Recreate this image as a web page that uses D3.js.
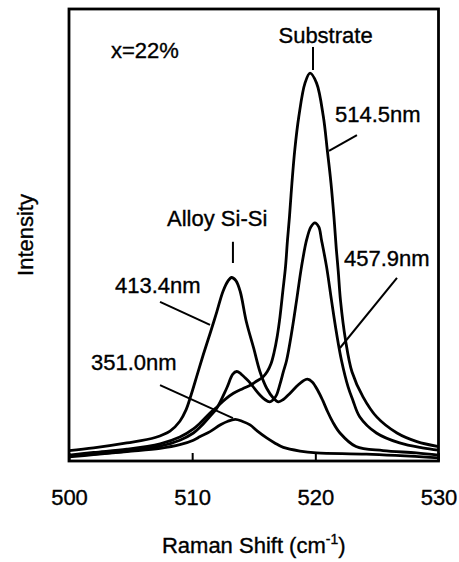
<!DOCTYPE html>
<html>
<head>
<meta charset="utf-8">
<script src="https://cdn.jsdelivr.net/npm/d3@7"></script>
<style>
  body { margin: 0; background: #fff; }
  svg text { font-family: "Liberation Sans", Arial, sans-serif; fill: #000; stroke: #000; stroke-width: 0.35px; }
</style>
</head>
<body>
<svg id="chart" width="459" height="562"></svg>
<script>
// Raman spectra, x=22% alloy, four excitation wavelengths
// [Raman shift (cm-1), intensity (a.u.)]
const spec514 = [
  [500, 1.3], [502, 1.9], [504.7, 2.6], [507.4, 3.8], [509, 5.3], [510.1, 7.1],
  [510.65, 8.4], [511.45, 10.6], [512, 11.9], [512.7, 13.7], [513.35, 15.0],
  [514.1, 16.0], [514.75, 16.8], [515.25, 17.7], [515.75, 18.6], [516.1, 19.8],
  [516.4, 21.5], [516.65, 24.0], [516.9, 27.5], [517.13, 31.9], [517.37, 37.8],
  [517.58, 43.0], [517.74, 48.9], [517.9, 54.0], [518.1, 61.5], [518.33, 68.8],
  [518.66, 76.2], [519.16, 83.6], [519.57, 85.8], [520.1, 83.6], [520.65, 76.2],
  [520.97, 68.8], [521.27, 61.5], [521.51, 54.0], [521.7, 47.0], [521.86, 42.0],
  [522.04, 35.6], [522.45, 26.8], [522.98, 19.7], [523.87, 14.2], [525.0, 9.7],
  [526.63, 6.2], [528.25, 4.3], [530, 3.2]
];
const spec457 = [
  [500, 1.1], [502, 1.5], [504.7, 2.2], [507.4, 3.3], [509, 4.6], [510.1, 6.2],
  [510.65, 7.5], [511.45, 9.9], [512, 11.7], [512.8, 16.1], [513.3, 19.2],
  [513.62, 19.8], [513.95, 19.3], [514.3, 18.4], [514.7, 17.3], [515.1, 15.9],
  [515.5, 14.6], [515.9, 13.6], [516.3, 13.1], [516.6, 13.6], [516.85, 14.6],
  [517.13, 17.0], [517.4, 19.7], [517.67, 22.3], [518.07, 28.3], [518.48, 35.6],
  [518.88, 43.0], [519.29, 48.9], [519.64, 51.8], [519.96, 52.7], [520.28, 51.8],
  [520.5, 48.9], [520.91, 43.0], [521.31, 35.6], [521.72, 28.3], [522.12, 22.3],
  [522.66, 16.4], [523.04, 13.5], [523.6, 9.8], [524.96, 6.2], [526.84, 4.0],
  [528.7, 2.9], [530, 2.4]
];
const spec413 = [
  [500, 2.3], [502, 2.9], [504.7, 4.0], [507, 5.2], [508.2, 6.6], [509.0, 8.8],
  [509.5, 11.3], [509.9, 14.5], [510.4, 19.0], [510.9, 23.5], [511.5, 28.6],
  [512.0, 33.0], [512.5, 37.5], [512.9, 39.8], [513.2, 40.6], [513.55, 39.9],
  [513.9, 37.5], [514.4, 30.8], [515.0, 24.9], [515.5, 19.8], [516.05, 16.1],
  [516.6, 13.9], [517.0, 13.1], [517.4, 13.6], [517.8, 14.6], [518.2, 15.7],
  [518.6, 16.8], [519.0, 17.7], [519.35, 18.1], [519.75, 17.5], [520.2, 15.6],
  [520.6, 13.4], [521.0, 10.9], [521.4, 8.7], [522.0, 6.2], [523.3, 3.2],
  [525.5, 2.3], [528.2, 1.8], [530, 1.3]
];
const spec351 = [
  [500, 0.9], [502, 1.4], [504.7, 2.1], [507.4, 2.8], [509, 3.6], [510.1, 4.6],
  [510.65, 5.4], [511.45, 6.5], [512.3, 8.0], [512.9, 8.8], [513.5, 9.2],
  [514.05, 8.8], [514.7, 8.0], [515.3, 6.6], [516.05, 5.1], [516.7, 4.0],
  [517.4, 3.0], [518.75, 2.2], [520.1, 1.8], [524.15, 1.5], [530, 0.7]
];
const spectra = [spec514, spec457, spec413, spec351];

const xTicks = [500, 510, 520, 530];
const xTitle = 'Raman Shift (cm';
const yTitle = 'Intensity';

const svg = d3.select('#chart');
const margin = { top: 9, right: 20.5, bottom: 101, left: 69 };
const W = 459 - margin.left - margin.right;
const H = 562 - margin.top - margin.bottom;

const x = d3.scaleLinear().domain([500, 530]).range([0, W]);
const y = d3.scaleLinear().domain([0, 100]).range([H, 0]);

const g = svg.append('g').attr('transform', `translate(${margin.left},${margin.top})`);

g.append('defs').append('clipPath').attr('id', 'clip')
  .append('rect').attr('width', W).attr('height', H);

// curves
const line = d3.line()
  .x(d => x(d[0])).y(d => y(d[1]))
  .curve(d3.curveCatmullRom.alpha(0.5));

g.append('g').attr('clip-path', 'url(#clip)')
  .selectAll('path')
  .data(spectra)
  .join('path')
  .attr('d', line)
  .attr('fill', 'none')
  .attr('stroke', '#000')
  .attr('stroke-width', 2.8)
  .attr('stroke-linejoin', 'round');

// x axis, ticks pointing inward
const xAxis = g.append('g')
  .attr('transform', `translate(0,${H})`)
  .call(d3.axisBottom(x).tickValues(xTicks).tickSizeInner(-8).tickSizeOuter(0).tickPadding(28));
xAxis.select('.domain').remove();
xAxis.selectAll('line').attr('stroke', '#000').attr('stroke-width', 2);
xAxis.selectAll('text')
  .attr('font-size', 22)
  .attr('font-family', '"Liberation Sans", Arial, sans-serif');

// frame
g.append('rect')
  .attr('width', W).attr('height', H)
  .attr('fill', 'none').attr('stroke', '#000').attr('stroke-width', 2.8);

// annotation text, positioned in data units
const labels = [
  { t: 'Substrate',   x: 520.83, y: 92.5, a: 'middle' },
  { t: 'x=22%',       x: 503.41, y: 89.2, a: 'start' },
  { t: '514.5nm',     x: 521.6,  y: 75.0, a: 'start' },
  { t: 'Alloy Si-Si', x: 507.96, y: 52.0, a: 'start' },
  { t: '457.9nm',     x: 522.33, y: 43.1, a: 'start' },
  { t: '413.4nm',     x: 503.73, y: 37.2, a: 'start' },
  { t: '351.0nm',     x: 501.79, y: 20.1, a: 'start' }
];
g.selectAll('.lbl')
  .data(labels)
  .join('text')
  .attr('class', 'lbl')
  .attr('x', d => x(d.x)).attr('y', d => y(d.y))
  .attr('text-anchor', d => d.a)
  .attr('font-size', 22)
  .text(d => d.t);

// leader lines
const leaders = [
  [[519.81, 91.6], [519.81, 86.5]],
  [[513.31, 48.5], [513.31, 43.8]],
  [[523.38, 72.1], [521.11, 68.6]],
  [[526.63, 40.5], [522.0, 25.0]],
  [[507.39, 35.2], [511.45, 30.1]],
  [[507.39, 16.8], [513.31, 9.5]]
];
g.selectAll('.leader')
  .data(leaders)
  .join('line')
  .attr('class', 'leader')
  .attr('x1', d => x(d[0][0])).attr('y1', d => y(d[0][1]))
  .attr('x2', d => x(d[1][0])).attr('y2', d => y(d[1][1]))
  .attr('stroke', '#000').attr('stroke-width', 2);

// axis titles
const xt = svg.append('text')
  .attr('x', margin.left + W / 2).attr('y', 553)
  .attr('text-anchor', 'middle').attr('font-size', 22)
  .text(xTitle);
xt.append('tspan').attr('font-size', 14).attr('dy', -9).text('-1');
xt.append('tspan').attr('dy', 9).text(')');

svg.append('text')
  .attr('transform', `translate(33,${margin.top + H / 2}) rotate(-90)`)
  .attr('text-anchor', 'middle').attr('font-size', 22)
  .text(yTitle);
</script>
</body>
</html>
